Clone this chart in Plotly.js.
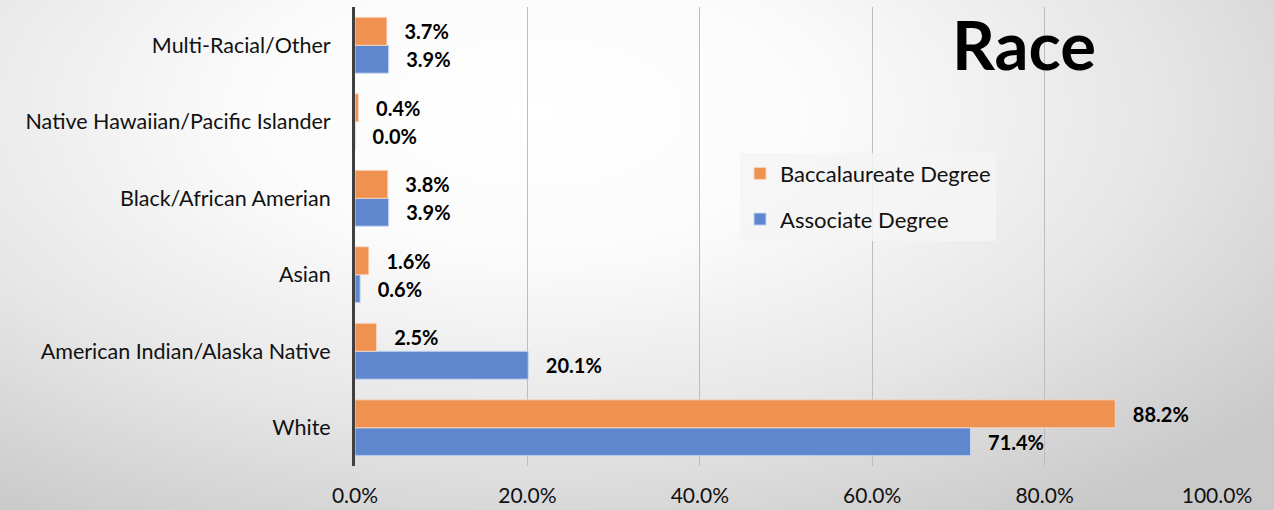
<!DOCTYPE html>
<html>
<head>
<meta charset="utf-8">
<script src="https://cdn.plot.ly/plotly-3.0.1.min.js"></script>
<style>
  html, body { margin: 0; padding: 0; }
  #chart {
    width: 1274px; height: 510px;
    background: radial-gradient(ellipse 75% 95% at 42% 22%, #ffffff 0%, #fbfbfb 30%, #e6e6e6 65%, #c9c9c9 100%);
  }
</style>
</head>
<body>
<div id="chart"></div>
<script>
const categories = ["White", "American Indian/Alaska Native", "Asian", "Black/African Amerian", "Native Hawaiian/Pacific Islander", "Multi-Racial/Other"];
const associate = [71.4, 20.1, 0.6, 3.9, 0.0, 3.9];
const baccalaureate = [88.2, 2.5, 1.6, 3.8, 0.4, 3.7];
const xTicks = [0, 20, 40, 60, 80, 100];
const xTickLabels = ["0.0%", "20.0%", "40.0%", "60.0%", "80.0%", "100.0%"];
const seriesNames = ["Associate Degree", "Baccalaureate Degree"];
const titleText = "Race";

const pad = "\u00a0\u00a0\u00a0";
const labelFont = {family: "Lato, 'Open Sans', sans-serif", size: 20, color: "#000", weight: "bold"};

const traces = [
  {
    type: "bar", orientation: "h", name: seriesNames[0], legendgroup: "a", legendrank: 2,
    y: categories, x: associate,
    marker: {color: "#5F87CD", line: {color: "rgba(200,215,245,0.9)", width: 1}},
    text: associate.map(v => pad + v.toFixed(1) + "%"),
    textposition: "outside", textfont: labelFont, cliponaxis: false,
    constraintext: "none", hoverinfo: "x+name"
  },
  {
    type: "bar", orientation: "h", name: seriesNames[1], legendgroup: "b", legendrank: 1,
    y: categories, x: baccalaureate,
    marker: {color: "#EF9151", line: {color: "rgba(250,215,190,0.9)", width: 1}},
    text: baccalaureate.map(v => pad + v.toFixed(1) + "%"),
    textposition: "outside", textfont: labelFont, cliponaxis: false,
    constraintext: "none", hoverinfo: "x+name"
  }
];

const layout = {
  width: 1274, height: 510,
  margin: {l: 355, r: 57, t: 7, b: 44},
  paper_bgcolor: "rgba(0,0,0,0)",
  plot_bgcolor: "rgba(0,0,0,0)",
  barmode: "group",
  bargap: 0.27,
  bargroupgap: 0,
  font: {family: "Lato, 'Open Sans', sans-serif", color: "#111"},
  xaxis: {
    range: [0, 100], tickvals: xTicks, ticktext: xTickLabels,
    showgrid: true, gridcolor: "#bdbdbd", gridwidth: 1,
    zeroline: false, showline: false, ticks: "",
    tickfont: {size: 21, color: "#111"}, ticklabelstandoff: 15,
    fixedrange: true
  },
  yaxis: {
    type: "category", categoryorder: "array", categoryarray: categories,
    showline: true, linecolor: "#404040", linewidth: 3,
    showgrid: false, ticks: "", tickfont: {size: 21.5, color: "#111"},
    ticklabelstandoff: 17, fixedrange: true
  },
  legend: {
    xref: "paper", yref: "paper",
    traceorder: "grouped", tracegroupgap: 14,
    bgcolor: "rgba(245,245,245,0.85)", borderwidth: 0,
    font: {size: 22, color: "#111"}
  },
  showlegend: true,
  annotations: [{
    text: "<b>" + titleText + "</b>", xref: "paper", yref: "paper",
    x: (950 - 355) / 862, y: 1, xanchor: "left", yanchor: "top", yshift: 5,
    showarrow: false, font: {size: 67, color: "#000", family: "Lato, 'Open Sans', sans-serif"}
  }]
};
layout.legend.x = (740 - 355) / 862;
layout.legend.y = (467 - 153) / 460;
layout.legend.xanchor = "left";
layout.legend.yanchor = "top";

Plotly.newPlot("chart", traces, layout, {displayModeBar: false, staticPlot: true});
</script>
</body>
</html>
